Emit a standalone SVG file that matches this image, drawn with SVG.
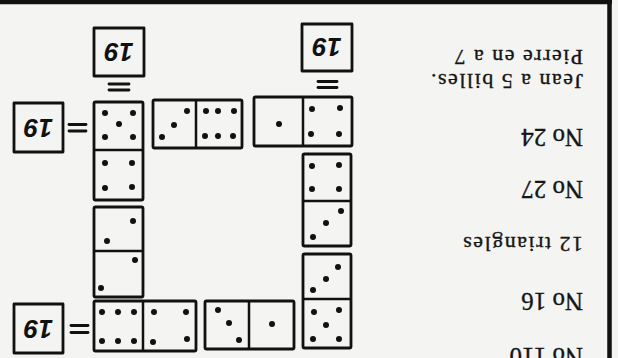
<svg xmlns="http://www.w3.org/2000/svg" width="618" height="358" viewBox="0 0 618 358">
<style>
.bg{fill:#f4f4f2}
.dom{fill:none;stroke:#111;stroke-width:2.8;stroke-linejoin:round}
.div{stroke:#111;stroke-width:2.5}
.pip{fill:#111}
.eq{stroke:#111;stroke-width:2.8;stroke-linecap:round}
.hand{font-family:"Liberation Sans","DejaVu Sans",sans-serif;font-style:italic;font-weight:bold;font-size:26px;fill:#111}
.t{font-family:"Liberation Serif","DejaVu Serif",serif;fill:#151515;stroke:#151515;stroke-width:0.35}
.no{font-size:25px}
.sm{font-size:22px;letter-spacing:1.5px}
.frame{stroke:#111;stroke-width:4.5;fill:none}
</style>
<defs>
<circle id="p" r="3" class="pip"/>
</defs>
<rect class="bg" x="0" y="0" width="618" height="358"/>
<g id="frame">
<line class="frame" x1="0" y1="2" x2="612" y2="2"/>
<line class="frame" x1="609.5" y1="0" x2="609.5" y2="358"/>
</g>

<g id="connectors">
<line class="eq" x1="109" y1="84" x2="129" y2="84"/>
<line class="eq" x1="109" y1="90" x2="129" y2="90"/>
<line class="eq" x1="318" y1="81.5" x2="337" y2="81.5"/>
<line class="eq" x1="318" y1="87.5" x2="337" y2="87.5"/>
<line class="eq" x1="69" y1="124.5" x2="86" y2="124.5"/>
<line class="eq" x1="69" y1="131" x2="86" y2="131"/>
<line class="eq" x1="71" y1="325.5" x2="88" y2="325.5"/>
<line class="eq" x1="71" y1="332.5" x2="88" y2="332.5"/>
</g>

<g id="box-top-left">
<rect class="dom" x="94" y="28" width="50" height="48"/>
<text class="hand" transform="translate(119,52) rotate(180)" text-anchor="middle" dominant-baseline="central">19</text>
</g>
<g id="box-top-right">
<rect class="dom" x="302" y="24" width="50" height="47"/>
<text class="hand" transform="translate(327,47) rotate(180)" text-anchor="middle" dominant-baseline="central">19</text>
</g>
<g id="box-left-middle">
<rect class="dom" x="14" y="103" width="49" height="49"/>
<text class="hand" transform="translate(38.5,127.5) rotate(180)" text-anchor="middle" dominant-baseline="central">19</text>
</g>
<g id="box-left-bottom">
<rect class="dom" x="14" y="304" width="49" height="49"/>
<text class="hand" transform="translate(38.5,328.5) rotate(180)" text-anchor="middle" dominant-baseline="central">19</text>
</g>

<g id="domino-left-1">
<rect class="dom" x="94" y="102" width="49" height="98" rx="1.5"/>
<line class="div" x1="94" y1="150" x2="143" y2="150"/>
<use href="#p" x="105" y="113"/><use href="#p" x="133" y="113"/><use href="#p" x="119" y="124"/><use href="#p" x="105" y="137"/><use href="#p" x="133" y="137"/>
<use href="#p" x="105" y="163"/><use href="#p" x="132" y="163"/><use href="#p" x="105" y="188"/><use href="#p" x="132" y="187"/>
</g>
<g id="domino-left-2">
<rect class="dom" x="94" y="207" width="49" height="90" rx="1.5"/>
<line class="div" x1="94" y1="251" x2="143" y2="251"/>
<use href="#p" x="133" y="221"/><use href="#p" x="107" y="241"/>
<use href="#p" x="135" y="260"/><use href="#p" x="101" y="288"/>
</g>
<g id="domino-bottom-left">
<rect class="dom" x="94" y="301" width="102" height="50" rx="1.5"/>
<line class="div" x1="143" y1="301" x2="143" y2="351"/>
<use href="#p" x="102" y="312"/><use href="#p" x="118" y="312"/><use href="#p" x="134" y="312"/>
<use href="#p" x="102" y="341"/><use href="#p" x="118" y="341"/><use href="#p" x="134" y="341"/>
<use href="#p" x="154" y="312"/><use href="#p" x="186" y="312"/><use href="#p" x="153" y="342"/><use href="#p" x="187" y="339"/>
</g>
<g id="domino-bottom-middle">
<rect class="dom" x="205" y="301" width="89" height="48" rx="1.5"/>
<line class="div" x1="249" y1="301" x2="249" y2="349"/>
<use href="#p" x="218" y="310"/><use href="#p" x="229" y="323"/><use href="#p" x="239" y="340"/>
<use href="#p" x="272" y="324"/>
</g>
<g id="domino-right-bottom">
<rect class="dom" x="303" y="254" width="48" height="94" rx="1.5"/>
<line class="div" x1="303" y1="299" x2="351" y2="299"/>
<use href="#p" x="338" y="267"/><use href="#p" x="326" y="279"/><use href="#p" x="313" y="290"/>
<use href="#p" x="314" y="312"/><use href="#p" x="339" y="310"/><use href="#p" x="326" y="325"/><use href="#p" x="313" y="339"/><use href="#p" x="339" y="339"/>
</g>
<g id="domino-right-upper">
<rect class="dom" x="303" y="154" width="48" height="92" rx="1.5"/>
<line class="div" x1="303" y1="201" x2="351" y2="201"/>
<use href="#p" x="312" y="166"/><use href="#p" x="339" y="165"/><use href="#p" x="312" y="189"/><use href="#p" x="339" y="189"/>
<use href="#p" x="341" y="211"/><use href="#p" x="326" y="223"/><use href="#p" x="313" y="237"/>
</g>
<g id="domino-top-right">
<rect class="dom" x="254" y="97" width="98" height="49" rx="1.5"/>
<line class="div" x1="303" y1="97" x2="303" y2="146"/>
<use href="#p" x="279" y="124"/>
<use href="#p" x="312" y="109"/><use href="#p" x="340" y="108"/><use href="#p" x="311" y="134"/><use href="#p" x="339" y="134"/>
</g>
<g id="domino-top-middle">
<rect class="dom" x="153" y="100" width="89" height="48" rx="1.5"/>
<line class="div" x1="196" y1="100" x2="196" y2="148"/>
<use href="#p" x="187" y="111"/><use href="#p" x="174" y="125"/><use href="#p" x="162" y="137"/>
<use href="#p" x="206" y="111"/><use href="#p" x="218" y="111"/><use href="#p" x="234" y="111"/>
<use href="#p" x="205" y="136"/><use href="#p" x="218" y="136"/><use href="#p" x="233" y="136"/>
</g>

<g id="text-pierre"><text class="t sm" transform="translate(583,50) rotate(180)">Pierre en a 7</text></g>
<g id="text-jean"><text class="t sm" transform="translate(583,74) rotate(180)">Jean a 5 billes.</text></g>
<g id="text-no24"><text class="t no" transform="translate(583,129) rotate(180)">No 24</text></g>
<g id="text-no27"><text class="t no" transform="translate(583,181) rotate(180)">No 27</text></g>
<g id="text-triangles"><text class="t sm" transform="translate(583,237) rotate(180)">12 triangles</text></g>
<g id="text-no16"><text class="t no" transform="translate(583,293) rotate(180)">No 16</text></g>
<g id="text-no110"><text class="t no" transform="translate(583,348) rotate(180)">No 110</text></g>
</svg>
